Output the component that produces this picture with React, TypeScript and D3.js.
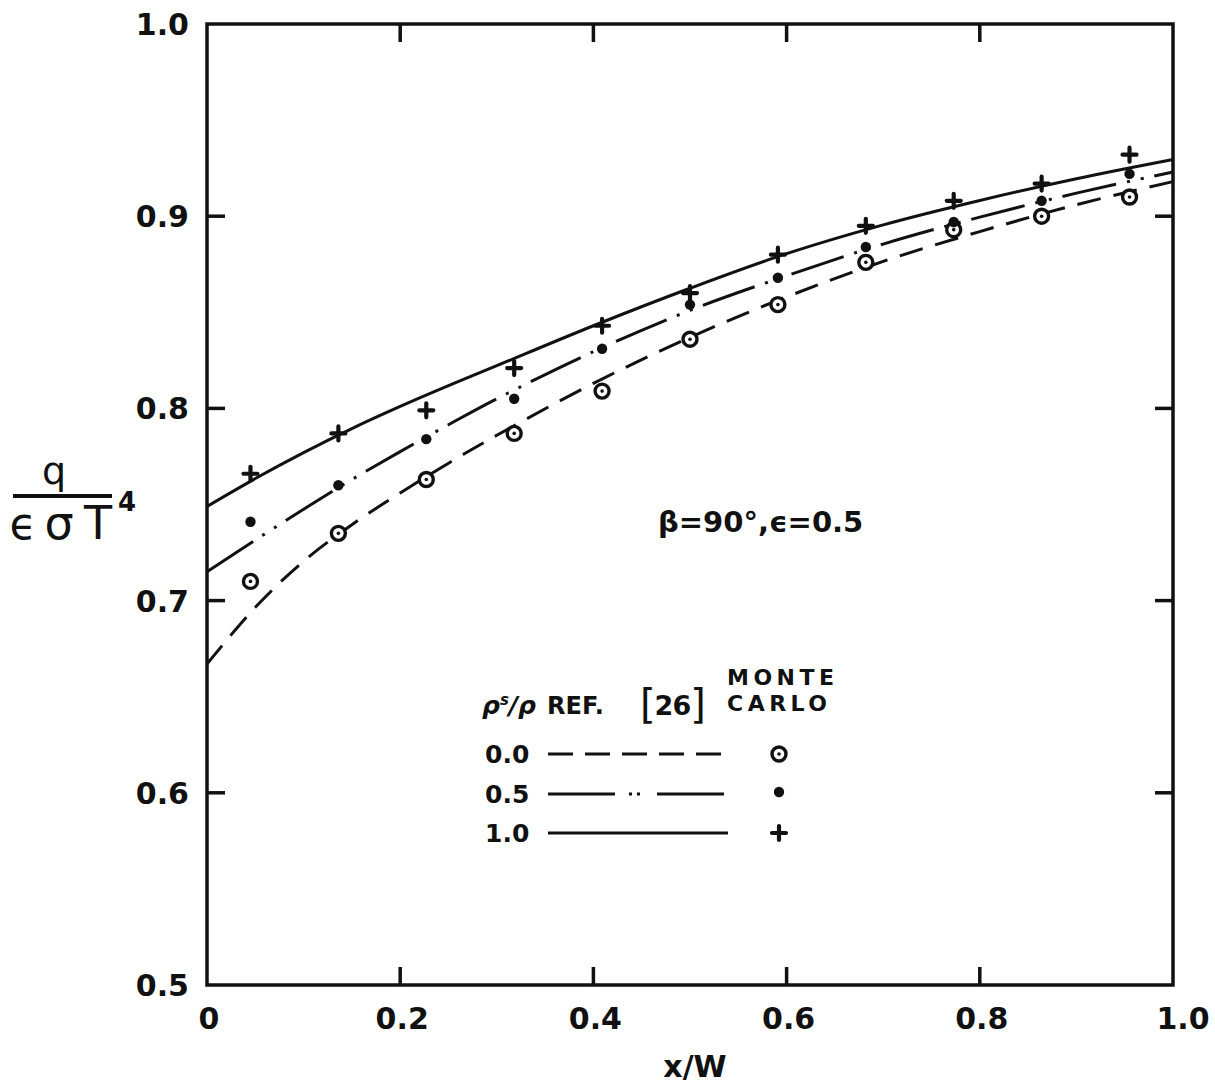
import React from "react";
import * as d3 from "d3";

// Curve samples (x/W) for the analytical solutions, REF. [26]
const curveX = [0, 0.05, 0.1, 0.15, 0.2, 0.25, 0.3, 0.4, 0.5, 0.6, 0.7, 0.8, 0.9, 1.0];
const ref26Rho00 = [0.667, 0.6965, 0.7205, 0.7395, 0.7560, 0.7715, 0.786, 0.813, 0.837, 0.858, 0.8765, 0.892, 0.906, 0.918];
const ref26Rho05 = [0.715, 0.7315, 0.7475, 0.763, 0.7775, 0.7915, 0.805, 0.8295, 0.851, 0.869, 0.8855, 0.8995, 0.9120, 0.923];
const ref26Rho10 = [0.749, 0.7635, 0.7770, 0.7895, 0.801, 0.8118, 0.8222, 0.843, 0.8625, 0.8805, 0.8955, 0.9082, 0.9195, 0.9295];

// Monte Carlo results at cell centres
const mcX = [0.045, 0.136, 0.227, 0.318, 0.409, 0.5, 0.591, 0.682, 0.773, 0.864, 0.955];
const mcRho00 = [0.710, 0.735, 0.763, 0.787, 0.809, 0.836, 0.854, 0.876, 0.893, 0.900, 0.910];
const mcRho05 = [0.741, 0.760, 0.784, 0.805, 0.831, 0.854, 0.868, 0.884, 0.897, 0.908, 0.922];
const mcRho10 = [0.766, 0.787, 0.799, 0.821, 0.843, 0.860, 0.880, 0.895, 0.908, 0.917, 0.932];

const xTickVals = [0, 0.2, 0.4, 0.6, 0.8, 1.0];
const xTickLabels = ["0", "0.2", "0.4", "0.6", "0.8", "1.0"];
const yTickVals = [0.5, 0.6, 0.7, 0.8, 0.9, 1.0];
const yTickLabels = ["0.5", "0.6", "0.7", "0.8", "0.9", "1.0"];
const legendLabels = ["0.0", "0.5", "1.0"];

const W = 1215;
const H = 1087;
const L = 207, R = 1173, T = 24, B = 985;

const FONT = "'DejaVu Sans', sans-serif";
const INK = "#111";

const dashStyles = ["24 13", "55 11 3 11 3 11", null];

function Marker({ kind, cx, cy }: { kind: number; cx: number; cy: number }) {
  if (kind === 0) {
    return (
      <g>
        <circle cx={cx} cy={cy} r={7} fill="#fff" stroke={INK} strokeWidth={3.4} />
        <circle cx={cx} cy={cy} r={1.8} fill={INK} />
      </g>
    );
  }
  if (kind === 1) {
    return <circle cx={cx} cy={cy} r={5.2} fill={INK} />;
  }
  return (
    <path
      d={`M${cx - 7},${cy}H${cx + 7}M${cx},${cy - 7}V${cy + 7}`}
      stroke={INK}
      strokeWidth={4.2}
      strokeLinecap="round"
    />
  );
}

export default function App() {
  const x = d3.scaleLinear().domain([0, 1]).range([L, R]);
  const y = d3.scaleLinear().domain([0.5, 1.0]).range([B, T]);

  const curves = [ref26Rho00, ref26Rho05, ref26Rho10];
  const points = [mcRho00, mcRho05, mcRho10];

  const line = d3
    .line<number>()
    .x((_, i) => x(curveX[i]))
    .y((d) => y(d))
    .curve(d3.curveCatmullRom.alpha(0.5));

  const innerTicksY = yTickVals.filter((v) => v > 0.5 && v < 1.0);
  const innerTicksX = xTickVals.filter((v) => v > 0 && v < 1.0);

  // legend geometry
  const legRows = [754, 794, 833];
  const legLineX0 = 548, legLineX1 = 728, legMarkX = 779;

  return (
    <svg
      width={W}
      height={H}
      viewBox={`0 0 ${W} ${H}`}
      style={{ position: "absolute", left: 0, top: 0, background: "#fff" }}
    >
      <rect x={0} y={0} width={W} height={H} fill="#fff" />

      {/* curves */}
      {curves.map((c, k) => (
        <path
          key={`c${k}`}
          d={line(c) || ""}
          fill="none"
          stroke={INK}
          strokeWidth={3}
          strokeDasharray={dashStyles[k] || undefined}
        />
      ))}

      {/* Monte Carlo markers */}
      {points.map((p, k) =>
        p.map((v, i) => <Marker key={`m${k}-${i}`} kind={k} cx={x(mcX[i])} cy={y(v)} />)
      )}

      {/* frame */}
      <rect x={L} y={T} width={R - L} height={B - T} fill="none" stroke={INK} strokeWidth={3.5} />

      {/* inward ticks */}
      {innerTicksY.map((v) => (
        <g key={`ty${v}`}>
          <line x1={L} x2={L + 18} y1={y(v)} y2={y(v)} stroke={INK} strokeWidth={3.5} />
          <line x1={R} x2={R - 18} y1={y(v)} y2={y(v)} stroke={INK} strokeWidth={3.5} />
        </g>
      ))}
      {innerTicksX.map((v) => (
        <g key={`tx${v}`}>
          <line x1={x(v)} x2={x(v)} y1={B} y2={B - 18} stroke={INK} strokeWidth={3.5} />
          <line x1={x(v)} x2={x(v)} y1={T} y2={T + 18} stroke={INK} strokeWidth={3.5} />
        </g>
      ))}

      {/* tick labels */}
      {yTickVals.map((v, i) => (
        <text
          key={`ly${v}`}
          x={189}
          y={y(v) + 11}
          textAnchor="end"
          fontFamily={FONT}
          fontWeight="bold"
          fontSize={30}
          fill={INK}
        >
          {yTickLabels[i]}
        </text>
      ))}
      {xTickVals.map((v, i) => (
        <text
          key={`lx${v}`}
          x={x(v) + (i === 0 ? 2 : i === xTickVals.length - 1 ? 10 : 2)}
          y={1029}
          textAnchor="middle"
          fontFamily={FONT}
          fontWeight="bold"
          fontSize={30}
          fill={INK}
        >
          {xTickLabels[i]}
        </text>
      ))}

      {/* axis titles */}
      <text x={695} y={1077} textAnchor="middle" fontFamily={FONT} fontWeight="bold" fontSize={30} fill={INK}>
        x/W
      </text>
      <g fontFamily={FONT} fill={INK}>
        <text x={54} y={484} textAnchor="middle" fontSize={38}>q</text>
        <line x1={13} x2={112} y1={496} y2={496} stroke={INK} strokeWidth={4} />
        <text x={23} y={539} textAnchor="middle" fontSize={44}>ϵ</text>
        <text x={59} y={539} textAnchor="middle" fontSize={46}>σ</text>
        <text x={98} y={539} textAnchor="middle" fontSize={46}>T</text>
        <text x={127} y={511} textAnchor="middle" fontSize={26} fontWeight="bold">4</text>
      </g>

      {/* parameters */}
      <text x={658} y={532} fontFamily={FONT} fontWeight="bold" fontSize={29} fill={INK}>
        β=90°,ϵ=0.5
      </text>

      {/* legend */}
      <g fontFamily={FONT} fill={INK} fontWeight="bold">
        <text x={482} y={714} fontSize={25} fontStyle="italic">
          ρ<tspan dy={-9} fontSize={15}>s</tspan>
          <tspan dy={9}>/ρ</tspan>
        </text>
        <text x={547} y={714} fontSize={24}>REF.</text>
        <text x={640} y={718} fontSize={27} letterSpacing={-1}>
          <tspan fontSize={40} fontWeight="normal">[</tspan>
          <tspan dy={-3}>26</tspan>
          <tspan dy={3} fontSize={40} fontWeight="normal">]</tspan>
        </text>
        <text x={727} y={685} fontSize={22} letterSpacing={4.5}>MONTE</text>
        <text x={727} y={711} fontSize={22} letterSpacing={4.5}>CARLO</text>
        {legendLabels.map((lab, k) => (
          <g key={`leg${k}`}>
            <text x={485} y={legRows[k] + 9} fontSize={25}>{lab}</text>
            <line
              x1={legLineX0}
              x2={legLineX1}
              y1={legRows[k]}
              y2={legRows[k]}
              stroke={INK}
              strokeWidth={3}
              strokeDasharray={k === 0 ? "25 12" : k === 1 ? "67 14 3 5 3 17" : undefined}
            />
            <Marker kind={k} cx={legMarkX} cy={legRows[k] - (k === 1 ? 2 : 0)} />
          </g>
        ))}
      </g>
    </svg>
  );
}
